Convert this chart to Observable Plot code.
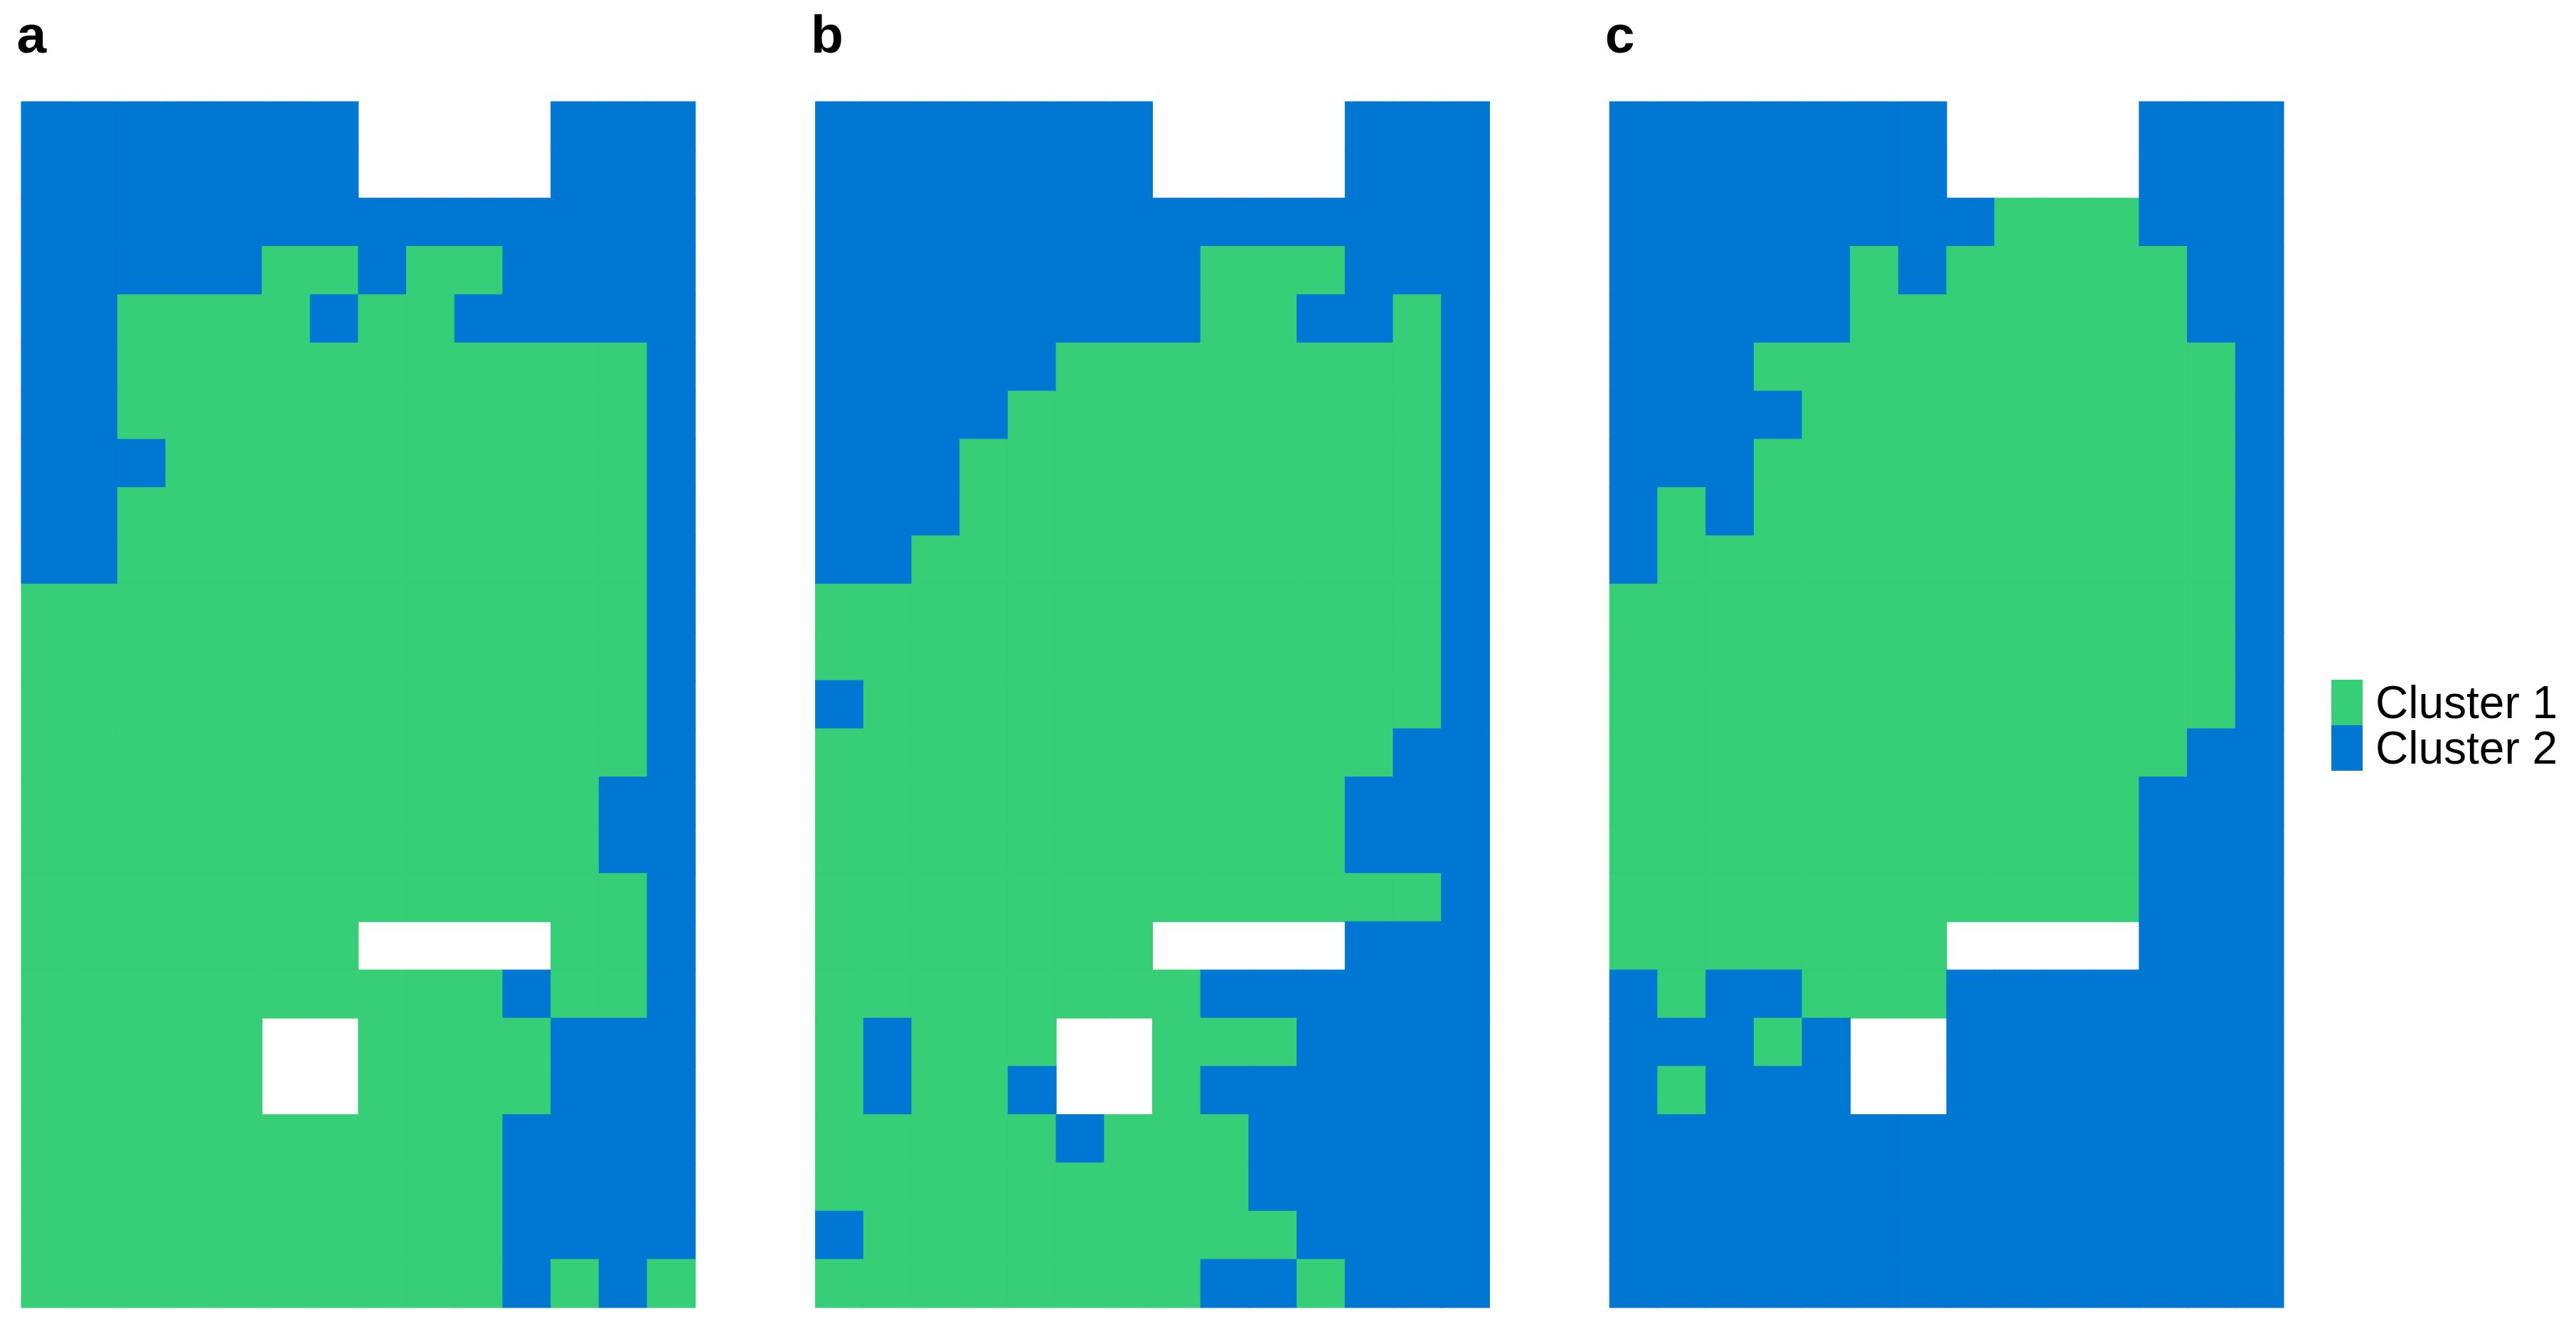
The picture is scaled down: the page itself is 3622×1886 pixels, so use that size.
<!DOCTYPE html>
<html>
<head>
<meta charset="utf-8">
<script src="https://cdn.jsdelivr.net/npm/d3@7"></script>
<script src="https://cdn.jsdelivr.net/npm/@observablehq/plot@0.6"></script>
<style>
  html, body { margin: 0; padding: 0; background: #fff; }
  #wrap { position: relative; width: 3622px; height: 1886px; font-family: "Liberation Sans", Arial, sans-serif; }
  #wrap svg { display: block; }
  #legend { position: absolute; left: 3278px; top: 956px; }
  .item { display: flex; align-items: center; height: 64px; overflow: visible; }
  .key { width: 44px; height: 64px; flex: none; }
  .lab { display: block; margin-left: 18px; font-size: 64px; color: #000; height: 64px; line-height: 64px; white-space: nowrap; overflow: visible; }
</style>
</head>
<body>
<div id="wrap"></div>
<script>
// Panel names
const panelNames = ["a", "b", "c"];
// Cluster names and colours
const clusterNames = ["Cluster 1", "Cluster 2"];
const clusterColors = ["#36CE77", "#0077D2"];
// Grid: 14 columns x 25 rows; G = Cluster 1, B = Cluster 2, . = empty
const panelA = [
  "BBBBBBB....BBB",
  "BBBBBBB....BBB",
  "BBBBBBBBBBBBBB",
  "BBBBBGGBGGBBBB",
  "BBGGGGBGGBBBBB",
  "BBGGGGGGGGGGGB",
  "BBGGGGGGGGGGGB",
  "BBBGGGGGGGGGGB",
  "BBGGGGGGGGGGGB",
  "BBGGGGGGGGGGGB",
  "GGGGGGGGGGGGGB",
  "GGGGGGGGGGGGGB",
  "GGGGGGGGGGGGGB",
  "GGGGGGGGGGGGGB",
  "GGGGGGGGGGGGBB",
  "GGGGGGGGGGGGBB",
  "GGGGGGGGGGGGGB",
  "GGGGGGG....GGB",
  "GGGGGGGGGGBGGB",
  "GGGGG..GGGGBBB",
  "GGGGG..GGGGBBB",
  "GGGGGGGGGGBBBB",
  "GGGGGGGGGGBBBB",
  "GGGGGGGGGGBBBB",
  "GGGGGGGGGGBGBG"
];
const panelB = [
  "BBBBBBB....BBB",
  "BBBBBBB....BBB",
  "BBBBBBBBBBBBBB",
  "BBBBBBBBGGGBBB",
  "BBBBBBBBGGBBGB",
  "BBBBBGGGGGGGGB",
  "BBBBGGGGGGGGGB",
  "BBBGGGGGGGGGGB",
  "BBBGGGGGGGGGGB",
  "BBGGGGGGGGGGGB",
  "GGGGGGGGGGGGGB",
  "GGGGGGGGGGGGGB",
  "BGGGGGGGGGGGGB",
  "GGGGGGGGGGGGBB",
  "GGGGGGGGGGGBBB",
  "GGGGGGGGGGGBBB",
  "GGGGGGGGGGGGGB",
  "GGGGGGG....BBB",
  "GGGGGGGGBBBBBB",
  "GBGGG..GGGBBBB",
  "GBGGB..GBBBBBB",
  "GGGGGBGGGBBBBB",
  "GGGGGGGGGBBBBB",
  "BGGGGGGGGGBBBB",
  "GGGGGGGGBBGBBB"
];
const panelC = [
  "BBBBBBB....BBB",
  "BBBBBBB....BBB",
  "BBBBBBBBGGGBBB",
  "BBBBBGBGGGGGBB",
  "BBBBBGGGGGGGBB",
  "BBBGGGGGGGGGGB",
  "BBBBGGGGGGGGGB",
  "BBBGGGGGGGGGGB",
  "BGBGGGGGGGGGGB",
  "BGGGGGGGGGGGGB",
  "GGGGGGGGGGGGGB",
  "GGGGGGGGGGGGGB",
  "GGGGGGGGGGGGGB",
  "GGGGGGGGGGGGBB",
  "GGGGGGGGGGGBBB",
  "GGGGGGGGGGGBBB",
  "GGGGGGGGGGGBBB",
  "GGGGGGG....BBB",
  "BGBBGGGBBBBBBB",
  "BBBGB..BBBBBBB",
  "BGBBB..BBBBBBB",
  "BBBBBBBBBBBBBB",
  "BBBBBBBBBBBBBB",
  "BBBBBBBBBBBBBB",
  "BBBBBBBBBBBBBB"
];

const grids = [panelA, panelB, panelC];
const nCols = panelA[0].length;
const nRows = panelA.length;

const cells = [];
grids.forEach((rows, p) => {
  rows.forEach((row, r) => {
    [...row].forEach((ch, c) => {
      if (ch === ".") return;
      cells.push({panel: panelNames[p], row: r, col: c, cluster: ch === "G" ? clusterNames[0] : clusterNames[1]});
    });
  });
});

const chart = Plot.plot({
  width: 3622,
  height: 1886,
  marginLeft: 30,
  marginRight: 411,
  marginTop: 143,
  marginBottom: 47,
  style: {fontFamily: "'Liberation Sans', Arial, sans-serif", background: "#fff"},
  fx: {domain: panelNames, paddingInner: 0.1512, paddingOuter: 0, round: false, axis: null, label: null},
  x: {domain: d3.range(nCols), padding: 0, round: false, axis: null},
  y: {domain: d3.range(nRows), padding: 0, round: false, axis: null},
  color: {domain: clusterNames, range: clusterColors},
  marks: [
    Plot.cell(cells, {fx: "panel", x: "col", y: "row", fill: "cluster", stroke: "cluster", strokeWidth: 1, inset: 0}),
    Plot.text(panelNames, {fx: d => d, text: d => d, frameAnchor: "top-left", textAnchor: "start", lineAnchor: "bottom", dy: -70, dx: -7, fontSize: 75, fontWeight: "bold", fill: "#000"})
  ]
});

const wrap = document.getElementById("wrap");
wrap.appendChild(chart);

const legend = document.createElement("div");
legend.id = "legend";
clusterNames.forEach((name, i) => {
  const item = document.createElement("div");
  item.className = "item";
  const key = document.createElement("div");
  key.className = "key";
  key.style.background = clusterColors[i];
  const lab = document.createElement("span");
  lab.className = "lab";
  lab.textContent = name;
  item.appendChild(key);
  item.appendChild(lab);
  legend.appendChild(item);
});
wrap.appendChild(legend);
</script>
</body>
</html>
